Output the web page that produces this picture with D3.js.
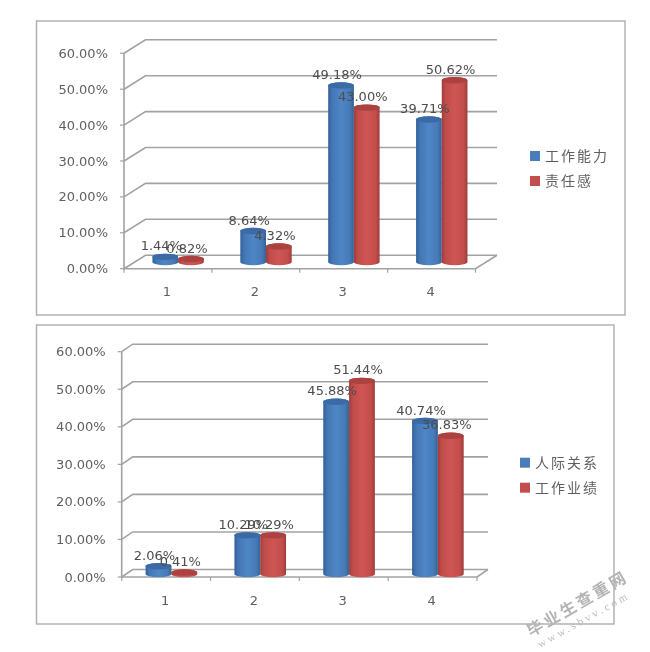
<!DOCTYPE html>
<html><head><meta charset="utf-8">
<script src="https://cdn.jsdelivr.net/npm/d3@7"></script>
<style>html,body{margin:0;padding:0;background:#fff}svg{display:block}
text{font-family:"DejaVu Sans",sans-serif}</style></head><body>
<svg id="c" width="650" height="652"></svg>
<script>
const categories = ["1","2","3","4"];
const ticks = [0,10,20,30,40,50,60];
const names1 = ["工作能力","责任感"];
const a1 = [1.44,8.64,49.18,39.71];
const b1 = [0.82,4.32,43.00,50.62];
const names2 = ["人际关系","工作业绩"];
const a2 = [2.06,10.29,45.88,40.74];
const b2 = [0.41,10.29,51.44,36.83];
const mark1 = "毕业生查重网";
const mark2 = "www.sbvv.com";

const svg = d3.select("#c");
const defs = svg.append("defs");
defs.append("filter").attr("id","soft").attr("x","-5%").attr("y","-5%").attr("width","110%").attr("height","110%")
  .append("feGaussianBlur").attr("stdDeviation",0.55);
function grad(id,stops){
  const g=defs.append("linearGradient").attr("id",id);
  stops.forEach(([o,c])=>g.append("stop").attr("offset",o).attr("stop-color",c));
}
grad("gb",[[0,"#30609a"],[.15,"#4476b3"],[.5,"#4f86c6"],[.85,"#4679b6"],[1,"#326397"]]);
grad("gr",[[0,"#9e3c3a"],[.15,"#c04d4b"],[.5,"#cf5554"],[.85,"#c24e4c"],[1,"#9e3c3a"]]);
const root = svg.append("g").attr("filter","url(#soft)");
const grid="#a2a2a2", ink="#5f5f5f", labelInk="#4d4d4d";

function chart(o){
  const g=root.append("g");
  g.append("rect").attr("x",o.frame[0]).attr("y",o.frame[1]).attr("width",o.frame[2]-o.frame[0]).attr("height",o.frame[3]-o.frame[1])
    .attr("fill","#fff").attr("stroke","#adadad").attr("stroke-width",1.4);
  const y=d3.scaleLinear().domain([0,60]).range([o.y0,o.y60]);
  const x=d3.scaleBand().domain(o.cats).range([o.x0,o.x1]);
  const {dx,dy}=o;
  g.selectAll(".grid").data(ticks).join("path").attr("fill","none").attr("stroke",grid).attr("stroke-width",1.6)
    .attr("d",t=>`M${o.x0},${y(t)}L${o.x0+dx},${y(t)-dy}H${o.x1+dx}`);
  g.append("path").attr("fill","none").attr("stroke",grid).attr("stroke-width",1.6)
    .attr("d",`M${o.x0},${o.y60}V${o.y0}H${o.x1}L${o.x1+dx},${o.y0-dy}`);
  g.selectAll(".ty").data(ticks).join("line").attr("stroke",grid).attr("stroke-width",1.2)
    .attr("x1",o.x0-4).attr("x2",o.x0).attr("y1",t=>y(t)).attr("y2",t=>y(t));
  g.selectAll(".tx").data(x.domain().map(c=>x(c)).concat([o.x1])).join("line").attr("stroke",grid).attr("stroke-width",1.2)
    .attr("x1",d=>d).attr("x2",d=>d).attr("y1",o.y0).attr("y2",o.y0+4);
  g.selectAll(".yl").data(ticks).join("text").attr("x",o.x0-16).attr("y",t=>y(t)).attr("dy","0.35em")
    .attr("text-anchor","end").attr("font-size",13).attr("fill",ink).text(t=>t.toFixed(2)+"%");
  g.selectAll(".xl").data(o.cats).join("text").attr("x",c=>x(c)+x.bandwidth()/2-1).attr("y",o.y0+23).attr("dy","0.35em")
    .attr("text-anchor","middle").attr("font-size",13).attr("fill",ink).text(c=>c);
  const w=o.barW, ry=3.2;
  const base=y(0)-o.lift;
  const yBar=v=>y(v)-o.lift;
  const series=[{v:o.a,f:"url(#gb)",top:"#3a6ba6",pos:0},{v:o.b,f:"url(#gr)",top:"#ab4240",pos:1}];
  const items=[];
  o.cats.forEach((c,i)=>series.forEach(s=>items.push({c,val:s.v[i],s})));
  const lx=d=>x(d.c)+x.bandwidth()/2+o.shift+(d.s.pos-1)*w;
  const bars=g.selectAll(".bar").data(items).join("g");
  bars.append("path").attr("fill",d=>d.s.f).attr("d",d=>{
    const L=lx(d),R=L+w,t=yBar(d.val);
    return `M${L},${t}V${base}A${w/2},${ry} 0 0 0 ${R},${base}V${t}A${w/2},${ry} 0 0 0 ${L},${t}Z`;
  });
  bars.append("ellipse").attr("cx",d=>lx(d)+w/2).attr("cy",d=>yBar(d.val)).attr("rx",w/2).attr("ry",ry).attr("fill",d=>d.s.top);
  g.selectAll(".dl").data(items).join("text").attr("x",d=>lx(d)+w/2-4).attr("y",d=>yBar(d.val)-11).attr("dy","0.35em")
    .attr("text-anchor","middle").attr("font-size",13).attr("fill",labelInk).text(d=>d.val.toFixed(2)+"%");
  o.names.forEach((n,i)=>{
    const ly=o.legY+i*25;
    g.append("rect").attr("x",o.legX).attr("y",ly-5).attr("width",10).attr("height",10).attr("fill",i?"#c0504d":"#4a7ebb");
    g.append("text").attr("x",o.legX+15).attr("y",ly).attr("dy","0.36em").attr("font-size",14).attr("letter-spacing",2)
      .attr("fill",ink).style("font-family",'"Noto Sans CJK SC"').text(n);
  });
}
chart({frame:[36.5,21,625,315],cats:categories,a:a1,b:b1,names:names1,x0:124,x1:475.5,y0:268.7,y60:53.3,dx:21.5,dy:13.5,lift:6.7,barW:25.7,shift:10.2,legX:530,legY:156});
chart({frame:[36.5,325,614,624],cats:categories,a:a2,b:b2,names:names2,x0:121.7,x1:477,y0:577,y60:351.7,dx:11,dy:7.5,lift:3,barW:25.8,shift:5.3,legX:520,legY:462.7});

root.append("text").attr("transform","translate(531,637) rotate(-30)").attr("font-size",16).attr("font-weight",700).attr("letter-spacing",3)
  .attr("fill","#b4b4b4").style("font-family",'"Noto Sans CJK SC"').text(mark1);
root.append("text").attr("transform","translate(540,648) rotate(-29)").attr("font-size",11).attr("letter-spacing",3)
  .attr("fill","#bcbcbc").style("font-family",'"Liberation Serif"').text(mark2);
</script></body></html>
